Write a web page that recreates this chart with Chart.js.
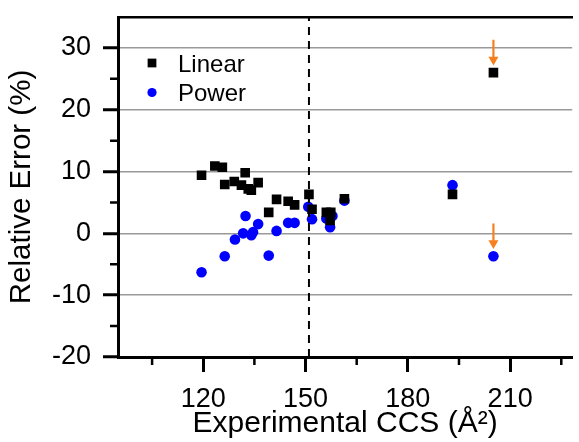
<!DOCTYPE html>
<html>
<head>
<meta charset="utf-8">
<script src="https://cdn.jsdelivr.net/npm/chart.js@4.4.1/dist/chart.umd.min.js"></script>
<style>
  html, body { margin: 0; padding: 0; background: #fff; }
  #wrap { width: 579px; height: 442px; }
</style>
</head>
<body>
<div id="wrap"><canvas id="chart" width="579" height="442"></canvas></div>
<script>
'use strict';
// ---------- data ----------
const linearX = [119.5, 123.4, 125.6, 126.3, 129.1, 131.2, 132.3, 133.2, 134.1, 136.1, 139.2,
                 141.5, 144.9, 146.8, 151.0, 151.9, 156.1, 157.4, 157.2, 161.4, 193.1, 205.1];
const linearY = [9.4, 10.9, 10.7, 7.9, 8.4, 7.8, 9.8, 7.2, 7.0, 8.2, 3.4,
                 5.5, 5.2, 4.6, 6.3, 3.9, 3.4, 3.4, 2.1, 5.6, 6.3, 26.0];

const powerX = [119.5, 126.3, 129.3, 131.7, 132.4, 134.1, 134.6, 136.1, 139.2, 141.5,
                144.9, 146.8, 150.8, 151.9, 156.1, 157.9, 157.2, 161.4, 193.1, 205.1];
const powerY = [-6.3, -3.7, -1.0, 0.0, 2.8, -0.3, 0.2, 1.5, -3.6, 0.4,
                1.7, 1.7, 4.3, 2.3, 2.4, 2.8, 1.0, 5.3, 7.8, -3.7];

// dashed cut-off line and the two orange arrows (tail -> head)
const cutoffX = 151;
const arrowX = 205.1;
const arrowTopY = [31.3, 28.1];
const arrowBottomY = [1.6, -1.6];

const xTicks = [120, 150, 180, 210];
const xMinorTicks = [105, 135, 165, 195, 225];
const yTicks = [-20, -10, 0, 10, 20, 30];
const yMinorTicks = [-15, -5, 5, 15, 25];
const xRange = [95, 228.2];
const yRange = [-20, 35];

const FONT = '"Liberation Sans", Arial, sans-serif';
const ORANGE = '#f7801e';

Chart.defaults.font.family = FONT;
Chart.defaults.color = '#000';

const pts = (xs, ys) => xs.map((x, i) => ({ x, y: ys[i] }));

// no automatic label padding: the plot box is pinned to the figure's frame
const noPad = s => { s.paddingTop = 0; s.paddingBottom = 0; s.paddingLeft = 0; s.paddingRight = 0; };

// Minor tick marks (shorter than the major ones Chart.js draws)
const minorTicks = {
    id: 'minorTicks',
    afterDraw(chart) {
        const { ctx, chartArea, scales } = chart;
        ctx.save();
        ctx.strokeStyle = '#000';
        ctx.lineWidth = 2.5;
        ctx.beginPath();
        xMinorTicks.forEach(v => {
            const px = scales.x.getPixelForValue(v);
            ctx.moveTo(px, chartArea.bottom);
            ctx.lineTo(px, chartArea.bottom + 8);
        });
        yMinorTicks.forEach(v => {
            const py = scales.y.getPixelForValue(v);
            ctx.moveTo(chartArea.left, py);
            ctx.lineTo(chartArea.left - 8, py);
        });
        ctx.stroke();
        ctx.restore();
    }
};

// Legend sitting inside the plot, top-left
const insideLegend = {
    id: 'insideLegend',
    afterDraw(chart) {
        const { ctx, chartArea } = chart;
        ctx.save();
        ctx.font = '24px ' + FONT;
        ctx.textBaseline = 'alphabetic';
        chart.data.datasets.filter(d => d.inLegend).forEach((d, i) => {
            const cx = chartArea.left + 34;
            const cy = chartArea.top + 46 + i * 29.5;
            ctx.fillStyle = d.backgroundColor;
            Chart.helpers.drawPoint(ctx, { pointStyle: d.pointStyle, radius: d.legendRadius, borderWidth: 0 }, cx, cy);
            ctx.fillStyle = '#000';
            ctx.fillText(d.label, chartArea.left + 60, cy + 8.5);
        });
        ctx.restore();
    }
};

new Chart(document.getElementById('chart'), {
    type: 'scatter',
    data: {
        datasets: [
            {
                label: 'Linear',
                data: pts(linearX, linearY),
                pointStyle: 'rect',
                pointRadius: 6.8,
                backgroundColor: '#000',
                borderWidth: 0,
                inLegend: true,
                legendRadius: 6.2,
                order: 1,
            },
            {
                label: 'Power',
                data: pts(powerX, powerY),
                pointStyle: 'circle',
                pointRadius: 5.3,
                backgroundColor: '#0000ff',
                borderWidth: 0,
                inLegend: true,
                legendRadius: 4.6,
                order: 2,
            },
            {
                label: 'cutoff',
                type: 'line',
                data: pts([cutoffX, cutoffX], yRange),
                borderColor: '#000',
                borderWidth: 2,
                borderDash: [8, 6],
                pointRadius: 0,
                order: 0,
            },
            {
                label: 'arrowTop',
                type: 'line',
                data: pts([arrowX, arrowX], arrowTopY),
                borderColor: ORANGE,
                backgroundColor: ORANGE,
                borderWidth: 2.2,
                pointStyle: 'triangle',
                rotation: 180,
                pointRadius: [0, 5.8],
                pointBorderWidth: 0,
                order: 0,
            },
            {
                label: 'arrowBottom',
                type: 'line',
                data: pts([arrowX, arrowX], arrowBottomY),
                borderColor: ORANGE,
                backgroundColor: ORANGE,
                borderWidth: 2.2,
                pointStyle: 'triangle',
                rotation: 180,
                pointRadius: [0, 5.8],
                pointBorderWidth: 0,
                order: 0,
            },
        ],
    },
    options: {
        responsive: false,
        animation: false,
        layout: { padding: 0 },
        plugins: {
            legend: { display: false },
            tooltip: { enabled: false },
        },
        scales: {
            x: {
                type: 'linear',
                position: 'bottom',
                min: xRange[0],
                max: xRange[1],
                afterBuildTicks: s => { s.ticks = xTicks.map(v => ({ value: v })); },
                afterFit: s => { s.height = 85; noPad(s); },
                ticks: { font: { size: 27 }, padding: 11, maxRotation: 0 },
                grid: {
                    drawOnChartArea: false,
                    drawTicks: true,
                    tickLength: 15,
                    tickWidth: 3,
                    tickColor: '#000',
                },
                border: { color: '#000', width: 3 },
                title: {
                    display: true,
                    text: 'Experimental CCS (Å²)',
                    font: { size: 30 },
                    padding: { top: 0, bottom: 0 },
                },
            },
            x2: {
                type: 'linear',
                position: 'top',
                min: xRange[0],
                max: xRange[1],
                afterFit: s => { s.height = 17; noPad(s); },
                ticks: { display: false },
                grid: { drawOnChartArea: false, drawTicks: false },
                border: { color: '#000', width: 2.5 },
            },
            y: {
                type: 'linear',
                min: yRange[0],
                max: yRange[1],
                afterBuildTicks: s => { s.ticks = yTicks.map(v => ({ value: v })); },
                afterFit: s => { s.width = 118; noPad(s); },
                ticks: { font: { size: 27 }, padding: 12 },
                grid: {
                    color: '#999',
                    lineWidth: 1.5,
                    drawTicks: true,
                    tickLength: 15,
                    tickWidth: 3,
                    tickColor: '#000',
                },
                border: { color: '#000', width: 3 },
                title: {
                    display: true,
                    text: 'Relative Error (%)',
                    font: { size: 29.5 },
                    padding: { top: 4, bottom: 0 },
                },
            },
        },
    },
    plugins: [minorTicks, insideLegend],
});
</script>
</body>
</html>
